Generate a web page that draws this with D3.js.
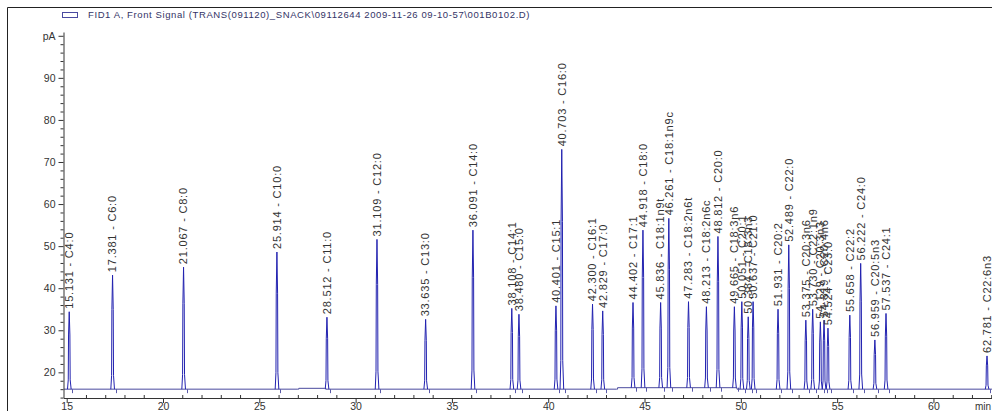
<!DOCTYPE html>
<html><head><meta charset="utf-8">
<script src="https://cdn.jsdelivr.net/npm/d3@7/dist/d3.min.js"></script>
<style>html,body{margin:0;padding:0;background:#fff;overflow:hidden}
text{font-family:"Liberation Sans",Arial,sans-serif}</style>
</head><body><svg id="c" width="992" height="411"></svg>
<script>
const retentionTimes = [15.131, 17.381, 21.067, 25.914, 28.512, 31.109, 33.635, 36.091, 38.108, 38.480, 40.401, 40.703, 42.300, 42.829, 44.402, 44.918, 45.836, 46.261, 47.283, 48.213, 48.812, 49.665, 50.051, 50.384, 50.637, 51.931, 52.489, 53.375, 53.730, 54.129, 54.319, 54.524, 55.658, 56.222, 56.959, 57.537, 62.781];
const peakHeights = [34.4, 43.1, 45.0, 48.6, 33.1, 51.6, 32.6, 53.8, 35.2, 33.8, 35.8, 73.0, 36.2, 34.6, 36.6, 53.8, 36.6, 56.6, 36.8, 35.6, 52.3, 35.6, 36.8, 33.2, 36.8, 35.0, 50.3, 32.4, 35.0, 32.0, 32.4, 30.5, 33.6, 45.9, 27.7, 34.0, 23.9];
const compounds = ["C4:0","C6:0","C8:0","C10:0","C11:0","C12:0","C13:0","C14:0","C14:1","C15:0","C15:1","C16:0","C16:1","C17:0","C17:1","C18:0","C18:1n9t","C18:1n9c","C18:2n6t","C18:2n6c","C20:0","C18:3n6","C20:1","C18:3n3","C21:0","C20:2","C22:0","C20:3n6","C22:1n9","C20:3n3","C20:4n6","C23:0","C22:2","C24:0","C20:5n3","C24:1","C22:6n3"];
const baselineTimes = [14.85, 27.0, 27.05, 28.4, 28.45, 43.55, 43.6, 49.75, 49.8, 63.1];
const baselineLevels = [16.0, 16.0, 16.2, 16.2, 16.0, 16.0, 16.35, 16.35, 16.0, 16.0];
const xTickLabels = ["15","20","25","30","35","40","45","50","55","60"];
const yTickLabels = ["20","30","40","50","60","70","80","90","pA"];
const legendText = "FID1 A, Front Signal (TRANS(091120)_SNACK\\09112644 2009-11-26 09-10-57\\001B0102.D)";

const svg = d3.select("#c");
const x = d3.scaleLinear().domain([14.834, 63.04]).range([63.5, 992]);
const y = d3.scaleLinear().domain([13.9, 100.9]).range([398, 32]);
const traceColor = "#2222b0";
const axisColor = "#333";

// frame
svg.append("path").attr("d","M7.5,411V7.5H992").attr("fill","none").attr("stroke","#222").attr("stroke-width",1);

// legend
svg.append("rect").attr("x",62.5).attr("y",12.5).attr("width",15).attr("height",5)
  .attr("fill","none").attr("stroke","#4a4aa0");
svg.append("text").attr("x",88).attr("y",18).attr("font-size",9.5).attr("letter-spacing",0.6)
  .attr("fill","#333366").text(legendText);

// baseline
const baseAt = t => { const i = Math.max(0, d3.bisectRight(baselineTimes, t) - 1); return baselineLevels[i]; };
svg.append("path")
  .attr("d", d3.line().x(d=>x(d[0])).y(d=>y(d[1])).curve(d3.curveStepAfter)(baselineTimes.map((t,i)=>[t, baselineLevels[i]])))
  .attr("fill","none").attr("stroke","#4a4a9e").attr("stroke-width",1);

// peaks
const peaks = retentionTimes.map((t,i)=>({t, h:peakHeights[i], name:compounds[i], b:baseAt(t)}));
const g = svg.append("g");
g.selectAll("path.pk").data(peaks).join("path").attr("class","pk")
  .attr("d", d => d3.line()([
    [x(d.t-0.09), y(d.b)], [x(d.t-0.05), y(d.b + (d.h-d.b)*0.12)], [x(d.t-0.035), y(d.b + (d.h-d.b)*0.7)],
    [x(d.t), y(d.h)],
    [x(d.t+0.035), y(d.b + (d.h-d.b)*0.7)], [x(d.t+0.05), y(d.b + (d.h-d.b)*0.12)], [x(d.t+0.1), y(d.b)]]))
  .attr("fill","none").attr("stroke",traceColor).attr("stroke-width",1);
g.selectAll("line.mk").data(peaks).join("line").attr("class","mk")
  .attr("x1", d=>Math.round(x(d.t+0.17))+0.5).attr("x2", d=>Math.round(x(d.t+0.17))+0.5)
  .attr("y1", d=>y(d.b)).attr("y2", d=>y(d.b)+4)
  .attr("stroke","#5a5aa8").attr("stroke-width",1);
g.selectAll("text.lb").data(peaks).join("text").attr("class","lb")
  .attr("transform", d=>`translate(${x(d.t)},${y(d.h)-3}) rotate(-90)`)
  .attr("dy","0.35em").attr("font-size",11).attr("letter-spacing",0.8).attr("fill","#333")
  .text(d => d.t.toFixed(3) + " - " + d.name);

// y axis
const yVals = [20,30,40,50,60,70,80,90,100];
svg.append("g").attr("transform","translate(63.5,0)")
  .call(d3.axisLeft(y).tickValues(yVals).tickFormat((d,i)=>yTickLabels[i]).tickSize(5).tickSizeOuter(0));
svg.append("g").attr("transform","translate(63.5,0)")
  .call(d3.axisLeft(y).tickValues(d3.range(14,101,2).filter(v=>v%10!==0)).tickFormat("").tickSize(3))
  .call(s=>s.select(".domain").remove());

// x axis
const xVals = d3.range(15,61,5);
const xa = svg.append("g").attr("transform","translate(0,398)")
  .call(d3.axisBottom(x).tickValues(xVals).tickFormat((d,i)=>xTickLabels[i]).tickSize(5).tickSizeOuter(0));
xa.selectAll(".tick text").attr("y",5).attr("dy","0.71em");
svg.append("g").attr("transform","translate(0,398)")
  .call(d3.axisTop(x).tickValues(d3.range(15,64,1).filter(v=>v%5!==0)).tickFormat("").tickSize(3))
  .call(s=>s.select(".domain").remove());
svg.append("text").attr("x",991).attr("y",410).attr("text-anchor","end").attr("font-size",10).attr("fill","#333").text("min");

svg.selectAll(".tick text").attr("font-size",10.5).attr("fill","#333").attr("font-family","Liberation Sans, Arial, sans-serif");
svg.selectAll(".domain, .tick line").attr("stroke",axisColor);
</script></body></html>
